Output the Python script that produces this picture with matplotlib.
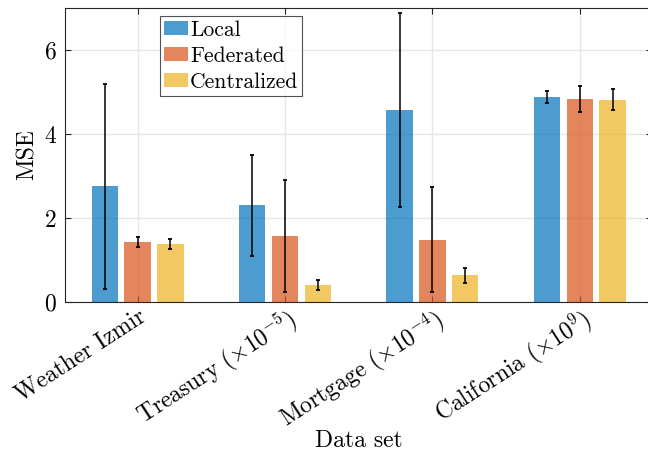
import numpy as np
import matplotlib
matplotlib.use("Agg")
import matplotlib.pyplot as plt

plt.rcParams['font.family'] = 'cmr10'
plt.rcParams['mathtext.fontset'] = 'cm'
plt.rcParams['axes.formatter.use_mathtext'] = True

# ---- data ----
datasets = ["Weather Izmir", r"Treasury $(\times10^{-5})$",
            r"Mortgage $(\times10^{-4})$", r"California $(\times10^{9})$"]
methods = ["Local", "Federated", "Centralized"]
mse_local = [2.76, 2.30, 4.57, 4.88]
mse_fed = [1.43, 1.57, 1.48, 4.83]
mse_cent = [1.38, 0.40, 0.64, 4.82]
err_local = [2.44, 1.20, 2.30, 0.14]
err_fed = [0.12, 1.33, 1.25, 0.31]
err_cent = [0.12, 0.12, 0.18, 0.25]

# matlab default colours, drawn with face alpha
colors = [(0, 0.447, 0.741), (0.850, 0.325, 0.098), (0.929, 0.694, 0.125)]

fig = plt.figure(figsize=(6.48, 4.54), dpi=100)
ax = fig.add_axes([65.3 / 648, 152 / 454, 586.8 / 648, 294 / 454])

x = np.arange(1, len(datasets) + 1)
width = 0.178
offset = 0.2225
series = [(mse_local, err_local), (mse_fed, err_fed), (mse_cent, err_cent)]
for i, (vals, errs) in enumerate(series):
    pos = x + (i - 1) * offset
    ax.bar(pos, vals, width, color=colors[i], alpha=0.7, linewidth=0,
           label=methods[i], zorder=2)
    ax.errorbar(pos, vals, yerr=errs, fmt='none', ecolor='black',
                elinewidth=1.1, capsize=1.6, capthick=1.3, zorder=3)

ax.set_xlim(0.5094, 4.4906)
ax.set_ylim(0, 7)
ax.set_yticks([0, 2, 4, 6])
ax.set_xticks(x)
ax.set_xticklabels(datasets, rotation=33, ha='right', rotation_mode='anchor',
                   fontsize=17.5)
ax.tick_params(axis='both', direction='in', top=True, right=True,
               labelsize=17, length=4, width=0.8, color='#262626', pad=6)
ax.tick_params(axis='x', pad=2)
ax.grid(True, color='#e6e6e6', linewidth=1.0)
ax.set_axisbelow(True)
for s in ax.spines.values():
    s.set_color('#262626')
    s.set_linewidth(0.8)

ax.set_ylabel("MSE", fontsize=17)
ax.yaxis.set_label_coords(-0.045, 0.5)
ax.set_xlabel("Data set", fontsize=17)
ax.xaxis.set_label_coords(0.5, -0.435)

leg = ax.legend(loc='upper left', bbox_to_anchor=(0.161, 0.973), fontsize=15.5,
                frameon=True, fancybox=False, handlelength=1.1,
                handleheight=0.6, handletextpad=0.1, labelspacing=0.3,
                borderpad=0.2, borderaxespad=0)
leg.get_frame().set_edgecolor('#262626')
leg.get_frame().set_linewidth(0.8)

fig.savefig("out.png", dpi=100)
